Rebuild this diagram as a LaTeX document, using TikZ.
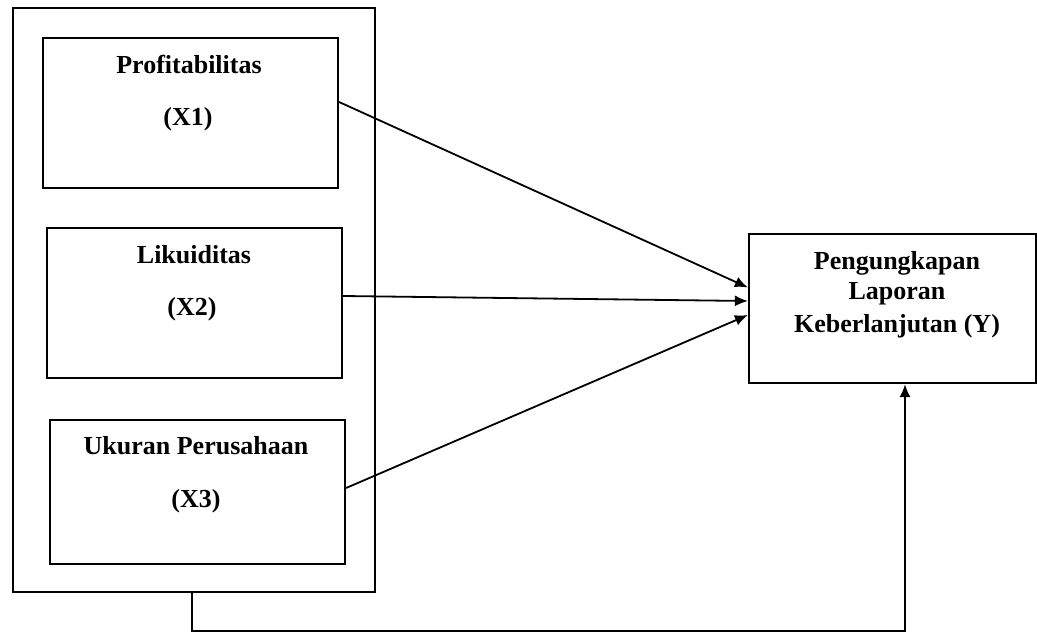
\documentclass[tikz,border=0pt]{standalone}
\usepackage{fontspec}
\setmainfont{Liberation Serif}
\usetikzlibrary{arrows.meta}
\begin{document}
\begin{tikzpicture}[x=1pt,y=-1pt,
  box/.style={draw,line width=2.2pt,rectangle,inner sep=0pt},
  lbl/.style={font=\fontsize{26}{30}\selectfont\bfseries,inner sep=0pt,align=center},
  conn/.style={line width=1.8pt,-{Latex[length=13pt,width=11pt]}}]
\useasboundingbox (0,0) rectangle (1037,634);
\node[box,minimum width=362pt,minimum height=584pt] (outer) at (194,300) {};
\node[box,minimum width=295pt,minimum height=150pt] (b1) at (190.5,113) {};
\node[box,minimum width=295pt,minimum height=150pt] (b2) at (194.5,303) {};
\node[box,minimum width=295pt,minimum height=144pt] (b3) at (197.5,492) {};
\node[box,minimum width=287pt,minimum height=149pt] (Y) at (892.5,308.5) {};
\node[lbl] (t1a) at (189,64) {Profitabilitas};
\node[lbl] (t1b) at (188,119) {(X1)};
\node[lbl] (t2a) at (194,255) {Likuiditas};
\node[lbl] (t2b) at (192,309) {(X2)};
\node[lbl] (t3a) at (196,446) {Ukuran Perusahaan};
\node[lbl] (t3b) at (196,501) {(X3)};
\node[lbl] (ty1) at (897,263) {Pengungkapan};
\node[lbl] (ty2) at (897,294) {Laporan};
\node[lbl] (ty3) at (897,326) {Keberlanjutan (Y)};
\draw[conn] ([yshift=11pt]b1.east) -- ([yshift=21pt]Y.west);
\draw[conn] ([yshift=7pt]b2.east) -- ([yshift=7.5pt]Y.west);
\draw[conn] ([yshift=4pt]b3.east) -- ([yshift=-6.5pt]Y.west);
\coordinate (c1) at (192,631);
\coordinate (c2) at (905,631);
\draw[conn] (outer.south -| c1) -- (c1) -- (c2) -- (Y.south -| c2);
\end{tikzpicture}
\end{document}
